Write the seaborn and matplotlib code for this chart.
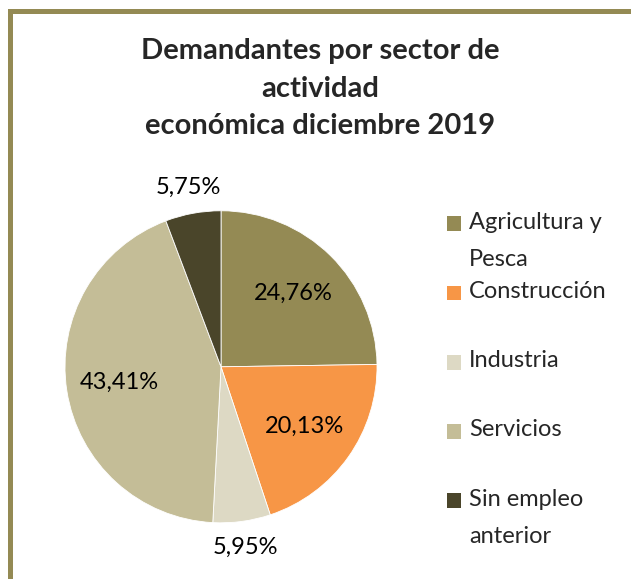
import numpy as np
import matplotlib
matplotlib.use("Agg")
import matplotlib.pyplot as plt
import seaborn as sns
from matplotlib.patches import Rectangle

# data
sectors = ["Agricultura y\nPesca", "Construcción", "Industria", "Servicios", "Sin empleo\nanterior"]
shares = [24.76, 20.13, 5.95, 43.41, 5.75]
colors = ["#948A54", "#F79646", "#DDD9C4", "#C4BD97", "#4A452A"]
title = "Demandantes por sector de\nactividad\neconómica diciembre 2019"

sns.set_style("white")
plt.rcParams["font.family"] = ["Lato", "DejaVu Sans"]

fig = plt.figure(figsize=(6.31, 5.79), dpi=100)
ax = fig.add_axes([0.103, 0.097, 0.4945, 0.539])

wedges, texts, autotexts = ax.pie(
    shares, colors=colors, startangle=90, counterclock=False,
    autopct=lambda p: f"{p:.2f}%".replace(".", ","), pctdistance=0.66,
    wedgeprops=dict(edgecolor="white", linewidth=0.6),
    textprops=dict(fontsize=17, color="black"))
ax.set_xlim(-1, 1)
ax.set_ylim(-1, 1)
ax.set_aspect("equal")

# small slices get their label outside
for w, t, v in zip(wedges, autotexts, shares):
    if v < 10:
        ang = np.deg2rad((w.theta1 + w.theta2) / 2)
        t.set_position((1.17 * np.cos(ang), 1.17 * np.sin(ang)))

fig.text(0.507, 0.847, title, ha="center", va="center", fontsize=21,
         fontweight="bold", linespacing=1.55)

# legend: two-line labels, single-line ones padded with an empty line
leg_labels = [s if "\n" in s else s + "\n " for s in sectors]
leg = fig.legend(wedges, leg_labels, loc="upper left", bbox_to_anchor=(0.709, 0.634),
                 frameon=False, fontsize=17, labelspacing=0.46, handlelength=0.59,
                 handleheight=0.59, handletextpad=0.32, borderpad=0, borderaxespad=0)
for t in leg.get_texts():
    t.set_linespacing(1.96)
for p in leg.get_patches():
    p.set_y(p.get_y() + 12.5)
    p.set_edgecolor("none")

# olive frame (only top and left visible)
fig.patches.append(Rectangle((9.5 / 631, -0.1), 1.2, 1 - 10.5 / 579 + 0.1,
                             transform=fig.transFigure, fill=False,
                             edgecolor="#948A54", linewidth=3.6))

fig.savefig("out.png", dpi=100)
